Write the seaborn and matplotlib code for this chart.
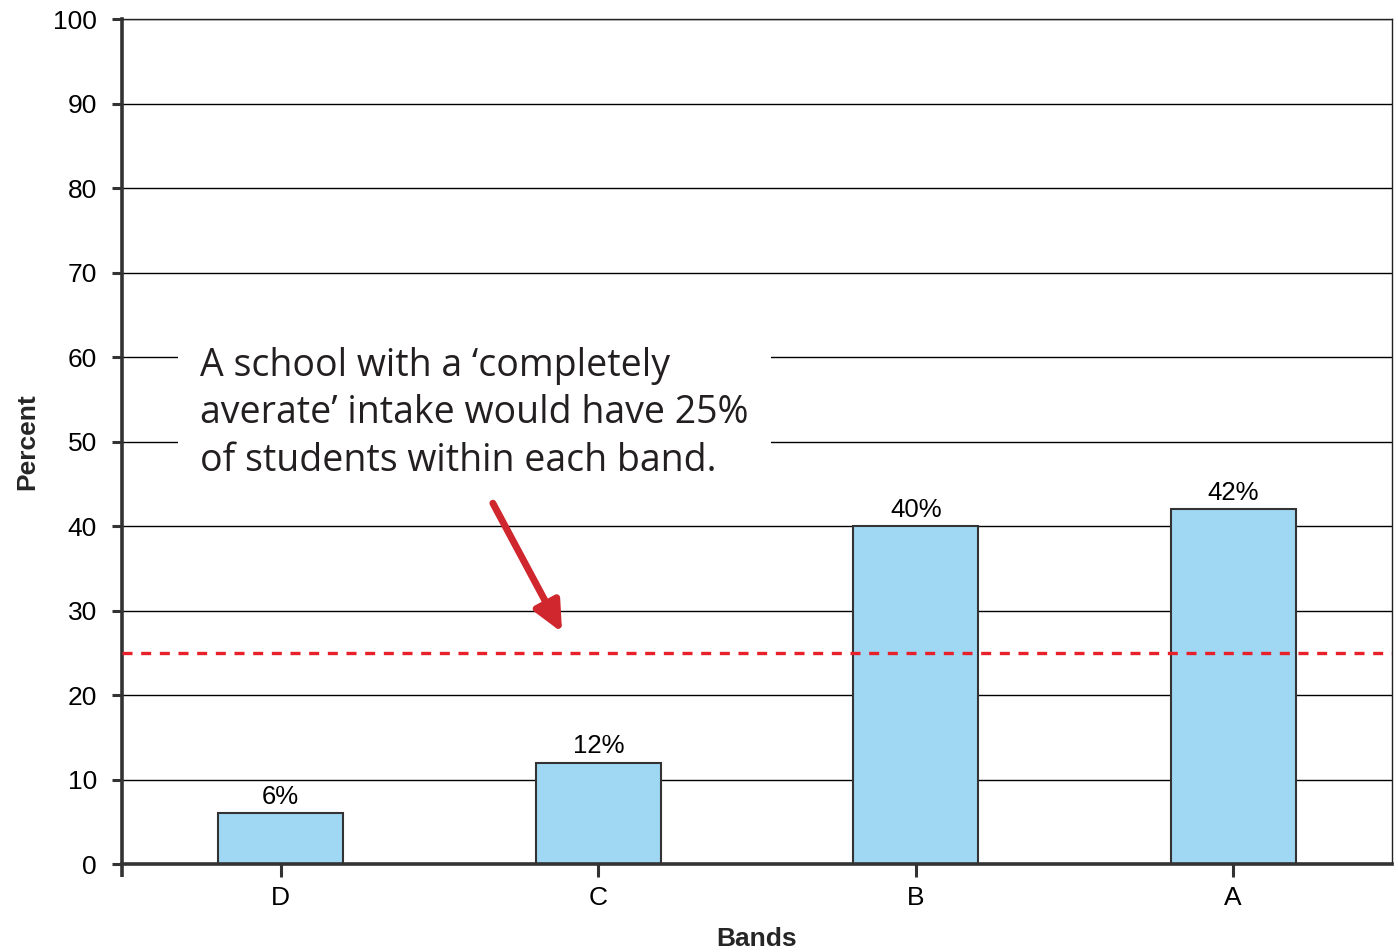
import matplotlib
matplotlib.use("Agg")
import matplotlib.pyplot as plt
import seaborn as sns
import pandas as pd

# Share of students per band
bands = ["D", "C", "B", "A"]
percents = [6, 12, 40, 42]
bar_labels = ["6%", "12%", "40%", "42%"]
y_ticks = [0, 10, 20, 30, 40, 50, 60, 70, 80, 90, 100]
average_share = 25
note = ("A school with a \u2018completely\n"
        "averate\u2019 intake would have 25%\n"
        "of students within each band.")

sns.set_theme(style="white")
plt.rcParams["font.family"] = ["Liberation Sans", "DejaVu Sans"]

df = pd.DataFrame({"Bands": bands, "Percent": percents})

fig = plt.figure(figsize=(13.98, 9.52), dpi=100)
ax = fig.add_axes([0.0873, 0.0924, 0.9084, 0.8876])

sns.barplot(data=df, x="Bands", y="Percent", order=bands, color="#a0d8f3",
            saturation=1, width=0.395, edgecolor="#333333", linewidth=1.5,
            ax=ax, zorder=2)

ax.set_ylim(0, 100)
ax.set_xlim(-0.5, len(bands) - 0.5)
ax.set_yticks(y_ticks)
ax.yaxis.grid(True, color="black", linewidth=1.0)
ax.set_axisbelow(True)

for spine in ["left", "bottom"]:
    ax.spines[spine].set_color("#333333")
    ax.spines[spine].set_linewidth(2.6)
for spine in ["top", "right"]:
    ax.spines[spine].set_color("#222222")
    ax.spines[spine].set_linewidth(1.0)

ax.tick_params(axis="y", which="major", left=True, length=7, width=2.2,
               color="#333333", pad=11, labelsize=19, labelcolor="black")
ax.tick_params(axis="x", which="major", bottom=True, length=9, width=2.2,
               color="#333333", pad=7, labelsize=19, labelcolor="black")
ax.set_xticks([-0.5], minor=True)
ax.tick_params(axis="x", which="minor", bottom=True, length=9, width=2.6,
               color="#333333")

ax.set_ylabel("Percent", fontsize=19, fontweight="bold", labelpad=10)
ax.set_xlabel("Bands", fontsize=19, fontweight="bold", labelpad=12)

for container in ax.containers:
    ax.bar_label(container, labels=bar_labels, padding=3, fontsize=18.5,
                 color="black")

ax.axhline(average_share, color="#e8202a", linewidth=2.4,
           linestyle=(0, (3, 2.6)), zorder=4)

ax.text(-0.254, 61.2, note, fontsize=27, family=["Open Sans", "DejaVu Sans"],
        color="#231f20", ha="left", va="top", linespacing=1.33, zorder=5,
        bbox=dict(boxstyle="square,pad=0.6", facecolor="white",
                  edgecolor="none"))

ax.annotate("", xy=(0.886, 27.4), xytext=(0.668, 42.7),
            arrowprops=dict(arrowstyle="-|>,head_length=1.5,head_width=0.7",
                            color="#d0262e", linewidth=5,
                            shrinkA=0, shrinkB=0),
            zorder=5)

fig.savefig("out.png", dpi=100)
